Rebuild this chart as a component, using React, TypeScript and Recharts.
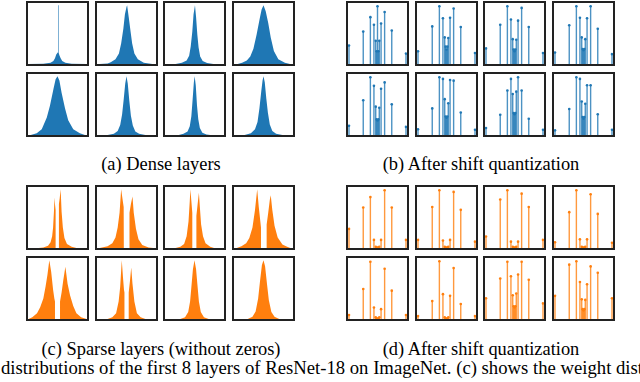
import React from "react";
import { AreaChart, Area, ScatterChart, Scatter, ErrorBar, XAxis, YAxis } from "recharts";

// --- Data ---
// x is relative to the box half-width, heights normalised to the tallest mark.

const BLUE = "#1f77b4";
const ORANGE = "#ff7f0e";

// quantisation levels (powers of two) used by the stem plots
const stemLevels = [-1, -0.5, -0.25, -0.125, -0.0625, -0.03125, 0, 0.03125, 0.0625, 0.125, 0.25, 0.5, 1];

// (b) dense layers after shift quantization
const shiftDense = [
  [0.32, 0.56, 0.81, 0.68, 0.40, 0.22, 1.0, 0.22, 0.40, 0.70, 0.90, 0.58, 0.18],
  [0.22, 0.65, 1.0, 0.79, 0.46, 0.30, 0.25, 0.30, 0.45, 0.80, 0.96, 0.64, 0.19],
  [0.27, 0.68, 1.0, 0.77, 0.43, 0.25, 0.22, 0.25, 0.42, 0.75, 0.97, 0.64, 0.19],
  [0.20, 0.67, 1.0, 0.80, 0.46, 0.26, 0.24, 0.26, 0.43, 0.79, 1.0, 0.61, 0.17],
  [0.16, 0.60, 1.0, 0.85, 0.49, 0.27, 0.25, 0.27, 0.47, 0.80, 0.91, 0.53, 0.14],
  [0.10, 0.46, 1.0, 0.97, 0.62, 0.32, 0.30, 0.32, 0.55, 0.95, 0.94, 0.39, 0.09],
  [0.12, 0.35, 0.77, 0.97, 0.71, 0.38, 0.36, 0.38, 0.75, 1.0, 0.77, 0.28, 0.09],
  [0.08, 0.45, 1.0, 0.97, 0.58, 0.31, 0.28, 0.31, 0.54, 0.86, 0.86, 0.36, 0.09],
];

// (d) sparse layers after shift quantization
const shiftSparse = [
  [0.33, 0.70, 0.88, 0.14, 0.02, 0.01, 0, 0.01, 0.02, 0.14, 1.0, 0.70, 0.14],
  [0.14, 0.71, 1.0, 0.13, 0.02, 0.01, 0, 0.01, 0.02, 0.14, 0.97, 0.66, 0.11],
  [0.20, 0.84, 1.0, 0.11, 0.02, 0.01, 0, 0.01, 0.02, 0.11, 0.94, 0.71, 0.14],
  [0.10, 0.62, 1.0, 0.15, 0.02, 0.01, 0, 0.01, 0.02, 0.15, 0.93, 0.59, 0.09],
  [0.07, 0.52, 0.99, 0.20, 0.03, 0.01, 0, 0.01, 0.03, 0.17, 0.87, 0.49, 0.07],
  [0.05, 0.31, 1.0, 0.43, 0.03, 0.01, 0, 0.01, 0.03, 0.40, 0.88, 0.26, 0.05],
  [0.36, 0.70, 0.99, 0.74, 0.41, 0.22, 0.20, 0.22, 0.44, 0.77, 0.99, 0.68, 0.27],
  [0.40, 0.94, 1.0, 0.64, 0.34, 0.17, 0.15, 0.17, 0.33, 0.60, 0.91, 0.80, 0.36],
];

// (a) dense layer histograms, [x, height]
const denseHist = [
  [[-1, 0], [-0.45, 0.005], [-0.22, 0.02], [-0.13, 0.05], [-0.08, 0.1], [-0.04, 0.16], [0, 0.19], [0.018, 0.2], [0.018, 1], [0.036, 1], [0.036, 0.19], [0.06, 0.15], [0.1, 0.1], [0.15, 0.05], [0.25, 0.02], [0.45, 0.005], [1, 0]],
  [[-0.85, 0], [-0.6, 0.01], [-0.5, 0.03], [-0.35, 0.08], [-0.24, 0.18], [-0.17, 0.35], [-0.1, 0.6], [-0.05, 0.85], [0, 0.97], [0.02, 1], [0.07, 0.8], [0.13, 0.55], [0.18, 0.35], [0.25, 0.18], [0.36, 0.08], [0.55, 0.02], [0.82, 0]],
  [[-0.6, 0], [-0.4, 0.02], [-0.25, 0.06], [-0.17, 0.14], [-0.12, 0.3], [-0.07, 0.55], [-0.03, 0.85], [0.015, 1], [0.05, 0.8], [0.09, 0.5], [0.13, 0.28], [0.18, 0.13], [0.26, 0.05], [0.4, 0.015], [0.6, 0]],
  [[-0.82, 0], [-0.68, 0.02], [-0.53, 0.06], [-0.42, 0.13], [-0.32, 0.26], [-0.22, 0.5], [-0.11, 0.8], [-0.06, 0.93], [0, 1], [0.07, 0.9], [0.15, 0.7], [0.23, 0.45], [0.33, 0.22], [0.47, 0.08], [0.68, 0.02], [0.84, 0]],
  [[-0.85, 0], [-0.66, 0.03], [-0.5, 0.1], [-0.34, 0.3], [-0.24, 0.5], [-0.13, 0.78], [-0.06, 0.95], [0, 1], [0.06, 0.93], [0.13, 0.72], [0.24, 0.45], [0.34, 0.25], [0.5, 0.1], [0.71, 0.03], [0.87, 0]],
  [[-0.6, 0], [-0.4, 0.02], [-0.28, 0.07], [-0.2, 0.17], [-0.14, 0.35], [-0.09, 0.6], [-0.04, 0.88], [0, 1], [0.04, 0.88], [0.09, 0.58], [0.14, 0.33], [0.2, 0.16], [0.28, 0.06], [0.4, 0.02], [0.6, 0]],
  [[-0.5, 0], [-0.35, 0.02], [-0.22, 0.06], [-0.15, 0.15], [-0.1, 0.32], [-0.06, 0.6], [-0.02, 0.9], [0.005, 1], [0.04, 0.85], [0.08, 0.5], [0.12, 0.27], [0.17, 0.12], [0.25, 0.04], [0.38, 0.01], [0.5, 0]],
  [[-0.6, 0], [-0.4, 0.03], [-0.27, 0.1], [-0.19, 0.22], [-0.13, 0.45], [-0.07, 0.75], [-0.03, 0.93], [0, 1], [0.04, 0.9], [0.09, 0.62], [0.14, 0.38], [0.2, 0.18], [0.28, 0.07], [0.4, 0.02], [0.6, 0]],
];

// (c) sparse layer histograms (zeros removed), [x, height]
const sparseHist = [
  [[-0.6, 0], [-0.45, 0.01], [-0.3, 0.04], [-0.22, 0.1], [-0.17, 0.2], [-0.14, 0.35], [-0.11, 0.65], [-0.095, 0.86], [-0.08, 0.75], [-0.06, 0.65], [-0.06, 0], [0.045, 0], [0.045, 0.75], [0.07, 0.85], [0.1, 1], [0.13, 0.62], [0.17, 0.35], [0.22, 0.17], [0.3, 0.07], [0.45, 0.02], [0.6, 0]],
  [[-0.85, 0], [-0.6, 0.03], [-0.45, 0.08], [-0.35, 0.18], [-0.28, 0.35], [-0.22, 0.6], [-0.17, 1], [-0.13, 0.85], [-0.09, 0.7], [-0.085, 0], [0.095, 0], [0.095, 0.6], [0.14, 0.75], [0.19, 0.88], [0.23, 0.6], [0.3, 0.33], [0.38, 0.15], [0.5, 0.05], [0.7, 0.01], [0.85, 0]],
  [[-0.6, 0], [-0.45, 0.02], [-0.33, 0.07], [-0.25, 0.2], [-0.19, 0.45], [-0.15, 0.8], [-0.13, 1], [-0.1, 0.8], [-0.07, 0.6], [-0.07, 0], [0.06, 0], [0.06, 0.55], [0.1, 0.75], [0.14, 0.94], [0.17, 0.7], [0.21, 0.4], [0.27, 0.2], [0.35, 0.08], [0.5, 0.02], [0.62, 0]],
  [[-0.85, 0], [-0.7, 0.03], [-0.55, 0.08], [-0.45, 0.17], [-0.35, 0.35], [-0.27, 0.65], [-0.2, 1], [-0.15, 0.7], [-0.1, 0.45], [-0.08, 0.35], [-0.08, 0], [0.1, 0], [0.1, 0.4], [0.15, 0.6], [0.2, 0.82], [0.23, 0.9], [0.28, 0.65], [0.35, 0.38], [0.45, 0.18], [0.6, 0.06], [0.75, 0.02], [0.85, 0]],
  [[-0.92, 0], [-0.8, 0.03], [-0.65, 0.1], [-0.55, 0.2], [-0.45, 0.35], [-0.38, 0.55], [-0.32, 0.75], [-0.26, 1], [-0.2, 0.8], [-0.14, 0.5], [-0.1, 0.35], [-0.08, 0.3], [-0.08, 0], [0.08, 0], [0.08, 0.3], [0.13, 0.45], [0.18, 0.65], [0.25, 0.89], [0.32, 0.6], [0.4, 0.4], [0.5, 0.22], [0.6, 0.1], [0.75, 0.03], [0.92, 0]],
  [[-0.6, 0], [-0.45, 0.03], [-0.33, 0.1], [-0.25, 0.3], [-0.2, 0.55], [-0.15, 1], [-0.11, 0.7], [-0.08, 0.5], [-0.065, 0.45], [-0.065, 0], [0.07, 0], [0.07, 0.45], [0.11, 0.65], [0.15, 0.88], [0.19, 0.6], [0.25, 0.3], [0.33, 0.1], [0.45, 0.03], [0.6, 0]],
  [[-0.45, 0], [-0.3, 0.03], [-0.2, 0.12], [-0.14, 0.3], [-0.09, 0.6], [-0.05, 0.85], [0, 1], [0.05, 0.85], [0.09, 0.6], [0.14, 0.3], [0.2, 0.12], [0.3, 0.03], [0.45, 0]],
  [[-0.5, 0], [-0.35, 0.04], [-0.25, 0.13], [-0.17, 0.35], [-0.11, 0.65], [-0.05, 0.92], [0, 1], [0.05, 0.9], [0.11, 0.6], [0.17, 0.32], [0.25, 0.12], [0.35, 0.04], [0.5, 0]],
];

const captions = [
  { text: "(a) Dense layers", x: 161, y: 169.5 },
  { text: "(b) After shift quantization", x: 481, y: 169.5 },
  { text: "(c) Sparse layers (without zeros)", x: 161, y: 354.5 },
  { text: "(d) After shift quantization", x: 481, y: 354.5 },
];
const bodyText = "distributions of the first 8 layers of ResNet-18 on ImageNet. (c) shows the weight distributions";

// --- Layout ---
const COL_X = [26, 94.67, 163.33, 232];
const BOX_W = 63;
const BOX_H = 65;
const BORDER = 2;
const IN_W = BOX_W - 2 * BORDER;
const IN_H = BOX_H - 2 * BORDER;
const noMargin = { top: 0, right: 0, bottom: 0, left: 0 };

function Frame({ left, top, children }: any) {
  return (
    <div
      style={{
        position: "absolute", left, top, width: BOX_W, height: BOX_H,
        border: `${BORDER}px solid #222`, boxSizing: "border-box", overflow: "hidden",
      }}
    >
      {children}
    </div>
  );
}

function HistGrid({ hists, color, left, tops }: any) {
  const dom = (BOX_W / 2 - BORDER) / (BOX_W / 2);
  return hists.map((pts: number[][], i: number) => {
    const data = pts.map(([x, h]) => ({ x, h }));
    return (
      <Frame key={i} left={left + COL_X[i % 4]} top={tops[Math.floor(i / 4)]}>
        <AreaChart width={IN_W} height={IN_H} data={data} margin={noMargin}>
          <XAxis type="number" dataKey="x" domain={[-dom, dom]} hide allowDataOverflow />
          <YAxis type="number" domain={[0, 1.04]} hide allowDataOverflow />
          <Area type="linear" dataKey="h" stroke="none" fill={color} fillOpacity={1} isAnimationActive={false} />
        </AreaChart>
      </Frame>
    );
  });
}

function StemGrid({ series, color, left, tops }: any) {
  const dom = 1.035;
  return series.map((vals: number[], i: number) => {
    const data = stemLevels.map((x, k) => ({ x, h: vals[k], err: [vals[k], 0] }));
    const dot = (p: any) => <circle cx={p.cx} cy={p.cy} r={1.3} fill={color} />;
    return (
      <Frame key={i} left={left + COL_X[i % 4]} top={tops[Math.floor(i / 4)]}>
        <ScatterChart width={IN_W} height={IN_H} margin={noMargin}>
          <XAxis type="number" dataKey="x" domain={[-dom, dom]} hide allowDataOverflow />
          <YAxis type="number" dataKey="h" domain={[0, 1.055]} hide allowDataOverflow />
          <Scatter data={data} shape={dot} isAnimationActive={false}>
            <ErrorBar dataKey="err" direction="y" width={0} stroke={color} strokeOpacity={0.8} strokeWidth={1.4} isAnimationActive={false} />
          </Scatter>
        </ScatterChart>
      </Frame>
    );
  });
}

export default function App() {
  const font = "'Liberation Serif', 'DejaVu Serif', serif";
  return (
    <div style={{ position: "absolute", left: 0, top: 0, width: 640, height: 382, background: "#fff", overflow: "hidden" }}>
      <HistGrid hists={denseHist} color={BLUE} left={0} tops={[0.5, 71.5]} />
      <StemGrid series={shiftDense} color={BLUE} left={320} tops={[0.5, 71.5]} />
      <HistGrid hists={sparseHist} color={ORANGE} left={0} tops={[185, 255.7]} />
      <StemGrid series={shiftSparse} color={ORANGE} left={320} tops={[185, 255.7]} />
      <svg width={640} height={382} style={{ position: "absolute", left: 0, top: 0, pointerEvents: "none" }}>
        {captions.map((c) => (
          <text key={c.text} x={c.x} y={c.y} textAnchor="middle" fontFamily={font} fontSize={18.4} fill="#000">
            {c.text}
          </text>
        ))}
        <text x={1} y={373.5} fontFamily={font} fontSize={18.7} fill="#000">{bodyText}</text>
      </svg>
    </div>
  );
}
